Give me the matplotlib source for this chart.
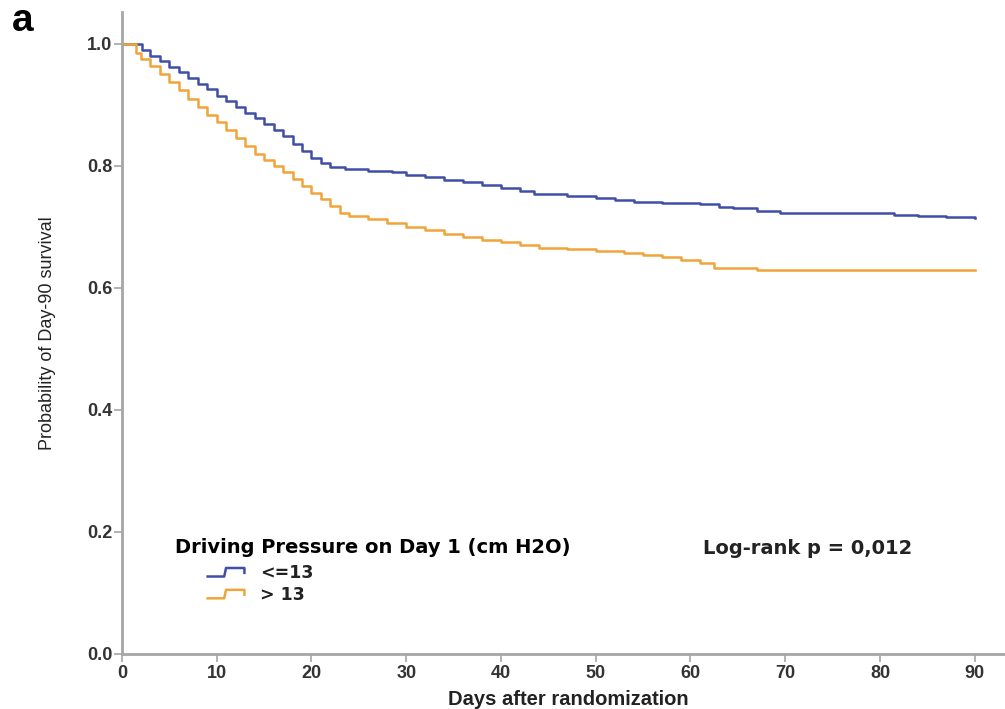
import numpy as np
import matplotlib
matplotlib.use('Agg')
import matplotlib.pyplot as plt
from matplotlib.lines import Line2D
from matplotlib.legend_handler import HandlerBase

# Kaplan-Meier step points (day, survival)
blue_days = [0, 2.1, 3, 4, 5, 6, 7, 8, 9, 10, 11, 12, 13, 14, 15, 16, 17, 18, 19, 20,
             21, 22, 23.5, 26, 28.5, 30, 32, 34, 36, 38, 40, 42, 43.5, 47, 50, 52, 54,
             57, 61, 63, 64.5, 67, 69.5, 81.5, 84, 87, 90]
blue_surv = [1.0, 0.99, 0.98, 0.972, 0.962, 0.953, 0.944, 0.934, 0.925, 0.915, 0.906,
             0.897, 0.887, 0.878, 0.869, 0.859, 0.848, 0.836, 0.824, 0.813, 0.805, 0.798,
             0.795, 0.792, 0.789, 0.785, 0.781, 0.777, 0.773, 0.769, 0.764, 0.759, 0.753,
             0.750, 0.748, 0.744, 0.741, 0.739, 0.737, 0.733, 0.730, 0.726, 0.722, 0.720,
             0.718, 0.716, 0.715]

orange_days = [0, 1.5, 2, 3, 4, 5, 6, 7, 8, 9, 10, 11, 12, 13, 14, 15, 16, 17, 18, 19,
               20, 21, 22, 23, 24, 26, 28, 30, 32, 34, 36, 38, 40, 42, 44, 47, 50, 53,
               55, 57, 59, 61, 62.5, 67, 90]
orange_surv = [1.0, 0.985, 0.975, 0.963, 0.95, 0.937, 0.924, 0.91, 0.897, 0.884, 0.871,
               0.858, 0.845, 0.832, 0.82, 0.81, 0.8, 0.789, 0.778, 0.767, 0.756, 0.745,
               0.734, 0.723, 0.718, 0.712, 0.706, 0.70, 0.695, 0.689, 0.684, 0.679, 0.675,
               0.670, 0.666, 0.663, 0.660, 0.657, 0.654, 0.650, 0.645, 0.640, 0.633,
               0.630, 0.630]

group_labels = ['<=13', '> 13']
x_ticks = [0, 10, 20, 30, 40, 50, 60, 70, 80, 90]
y_ticks = [0.0, 0.2, 0.4, 0.6, 0.8, 1.0]

BLUE = '#3f4ea6'
ORANGE = '#f0a43a'
AXC = '#a6a6a6'

plt.rcParams['font.family'] = ['Liberation Sans', 'DejaVu Sans']


class StepHandler(HandlerBase):
    # little step-shaped legend icon, drawn in the right part of the handle box
    def create_artists(self, legend, orig_handle, xdescent, ydescent,
                       width, height, fontsize, trans):
        x0 = width * 0.47
        w = width - x0
        xs = x0 + np.array([0, 0.45, 0.5, 1.0, 1.0]) * w - xdescent
        ys = np.array([0.1, 0.1, 0.8, 0.8, 0.4]) * height - ydescent
        ln = Line2D(xs, ys, color=orig_handle.get_color(), lw=orig_handle.get_linewidth(),
                    transform=trans)
        return [ln]


fig = plt.figure(figsize=(10.05, 7.09), dpi=100)
ax = fig.add_axes([0.1214, 0.0776, 0.8786, 0.9055])

l1, = ax.step(blue_days, blue_surv, where='post', color=BLUE, lw=1.8)
l2, = ax.step(orange_days, orange_surv, where='post', color=ORANGE, lw=1.8)

ax.set_xlim(0, 93.2)
ax.set_ylim(0, 1.052)
ax.set_xticks(x_ticks)
ax.set_yticks(y_ticks)
ax.set_yticklabels(['%.1f' % v for v in y_ticks])

for s in ['top', 'right']:
    ax.spines[s].set_visible(False)
for s in ['left', 'bottom']:
    ax.spines[s].set_color(AXC)
    ax.spines[s].set_linewidth(2)

ax.tick_params(axis='both', colors=AXC, length=6, width=1.2, direction='out')
ax.tick_params(axis='both', labelcolor='#333333', labelsize=13)
ax.tick_params(axis='y', pad=1)
ax.tick_params(axis='x', pad=2)
for lab in ax.get_xticklabels() + ax.get_yticklabels():
    lab.set_fontweight('bold')

ax.set_ylabel('Probability of Day-90 survival', fontsize=13, color='#222222')
ax.yaxis.set_label_coords(-0.075, 0.5)
ax.set_xlabel('Days after randomization', fontsize=14.5, fontweight='bold', color='#222222')
ax.xaxis.set_label_coords(0.505, -0.056)

leg = ax.legend([l1, l2], group_labels, handler_map={Line2D: StepHandler()},
                title='Driving Pressure on Day 1 (cm H2O)', loc='upper left',
                bbox_to_anchor=(0.06, 0.181), frameon=False, alignment='left',
                prop={'size': 12.5, 'weight': 'bold', 'family': 'DejaVu Sans'},
                handlelength=4.0, handletextpad=0.9, labelspacing=0.22,
                borderpad=0, borderaxespad=0)
leg.get_title().set_fontweight('bold')
leg.get_title().set_fontsize(14)
leg.get_title().set_family('DejaVu Sans')
leg._legend_box.sep = 5
for t in leg.get_texts():
    t.set_color('#222222')

ax.text(0.658, 0.165, 'Log-rank p = 0,012', transform=ax.transAxes,
        fontsize=14, fontweight='bold', family='DejaVu Sans', color='#222222',
        va='center', ha='left')

fig.text(0.012, 0.97, 'a', fontsize=28, fontweight='bold', va='center', ha='left')

fig.savefig('out.png', dpi=100)
